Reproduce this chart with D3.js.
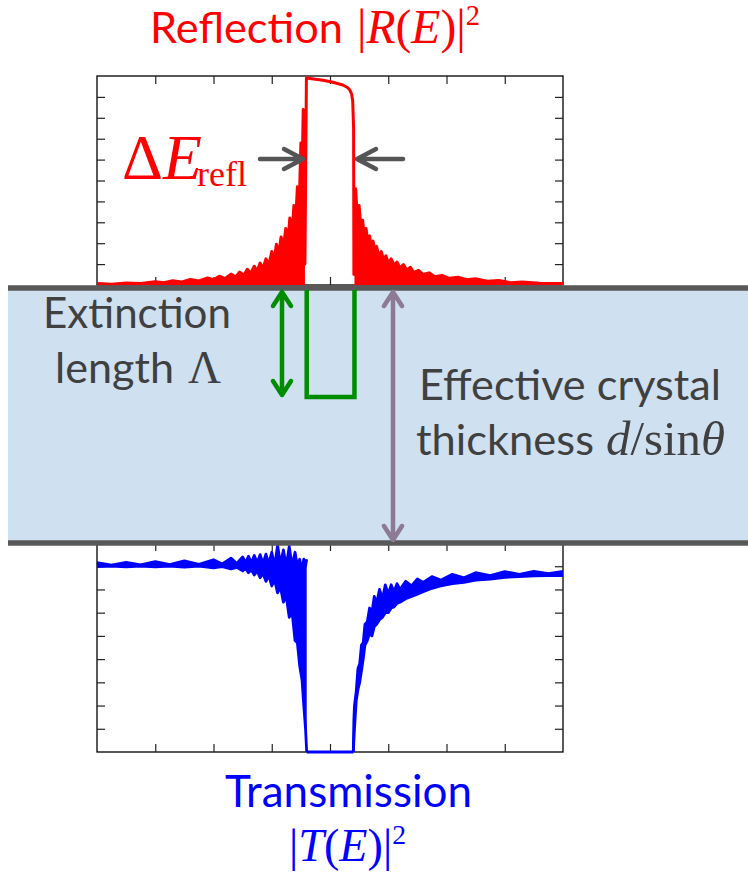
<!DOCTYPE html>
<html>
<head>
<meta charset="utf-8">
<script src="https://cdn.jsdelivr.net/npm/d3@7"></script>
<style>
	body { margin: 0; background: #fff; }
	svg { display: block; }
</style>
</head>
<body>
<script>
(function () {
	"use strict";

	// energy axis (arbitrary units) and tick positions
	var xTicks = [-3, -2, -1, 0, 1, 2, 3];
	var reflTicks = [0.1, 0.2, 0.3, 0.4, 0.5, 0.6, 0.7, 0.8, 0.9];
	var transTicks = [0.1, 0.2, 0.3, 0.4, 0.5, 0.6, 0.7, 0.8];

	// reflection |R(E)|^2 (fringe peaks and notches)
	var reflLeftE = [-4.0, -3.75, -3.5, -3.25, -3.0, -2.85, -2.7, -2.55, -2.4, -2.25, -2.1, -2.0, -1.9, -1.8,
		-1.7, -1.62, -1.55, -1.48, -1.42, -1.36, -1.3, -1.25, -1.2, -1.15, -1.1, -1.05, -1.0, -0.96,
		-0.92, -0.88, -0.84, -0.8, -0.76, -0.72, -0.69, -0.65, -0.62, -0.59, -0.56, -0.53, -0.5, -0.48,
		-0.46, -0.43];
	var reflLeftR = [0.007, 0.004, 0.010, 0.007, 0.016, 0.011, 0.020, 0.014, 0.027, 0.019, 0.034, 0.025, 0.042, 0.031,
		0.052, 0.038, 0.062, 0.046, 0.075, 0.055, 0.090, 0.066, 0.105, 0.078, 0.125, 0.095, 0.160, 0.120,
		0.195, 0.150, 0.230, 0.180, 0.270, 0.215, 0.320, 0.250, 0.380, 0.300, 0.470, 0.360, 0.680, 0.500,
		0.840, 0.100];
	var reflCoreE = [-0.405, -0.25, -0.12, 0.05, 0.22, 0.30, 0.34, 0.37, 0.39, 0.405, 0.41];
	var reflCoreR = [0.99, 0.985, 0.98, 0.97, 0.957, 0.945, 0.933, 0.915, 0.88, 0.75, 0.05];
	var reflRightE = [0.42, 0.44, 0.47, 0.50, 0.53, 0.56, 0.59, 0.62, 0.65, 0.68, 0.71, 0.74, 0.77, 0.80,
		0.84, 0.88, 0.92, 0.96, 1.0, 1.05, 1.1, 1.15, 1.2, 1.26, 1.32, 1.38, 1.44, 1.52, 1.6, 1.7,
		1.8, 1.92, 2.05, 2.2, 2.35, 2.5, 2.7, 2.9, 3.1, 3.3, 3.6, 4.0];
	var reflRightR = [0.20, 0.46, 0.32, 0.38, 0.27, 0.31, 0.23, 0.27, 0.20, 0.235, 0.175, 0.21, 0.155, 0.185,
		0.135, 0.16, 0.12, 0.14, 0.105, 0.125, 0.095, 0.11, 0.082, 0.098, 0.07, 0.085, 0.06, 0.07, 0.05, 0.058,
		0.04, 0.046, 0.032, 0.037, 0.025, 0.03, 0.018, 0.022, 0.011, 0.014, 0.008, 0.007];

	// transmission |T(E)|^2, upper and lower edge of the fringe band
	var transLeftE = [-4.0, -3.75, -3.5, -3.25, -3.0, -2.75, -2.5, -2.25, -2.0, -1.85, -1.7, -1.6, -1.5, -1.45,
		-1.4, -1.35, -1.3, -1.25, -1.2, -1.15, -1.1, -1.05, -1.0, -0.95, -0.9, -0.85, -0.8, -0.75,
		-0.7, -0.65, -0.6, -0.56, -0.52, -0.48, -0.45, -0.42, -0.40];
	var transLeftHi = [0.815, 0.805, 0.817, 0.806, 0.82, 0.807, 0.823, 0.808, 0.828, 0.81, 0.835, 0.812, 0.84, 0.815,
		0.843, 0.815, 0.846, 0.815, 0.85, 0.812, 0.852, 0.81, 0.86, 0.80, 0.89, 0.81, 0.87, 0.80,
		0.885, 0.80, 0.86, 0.80, 0.83, 0.78, 0.83, 0.80, 0.83];
	var transLeftLo = [0.798, 0.801, 0.797, 0.801, 0.797, 0.801, 0.796, 0.80, 0.793, 0.798, 0.788, 0.795, 0.78, 0.79,
		0.772, 0.785, 0.762, 0.78, 0.75, 0.77, 0.735, 0.76, 0.715, 0.74, 0.685, 0.71, 0.645, 0.67,
		0.58, 0.60, 0.48, 0.47, 0.37, 0.31, 0.20, 0.10, 0.0];
	var transCoreE = [-0.40, 0.40];
	var transCoreT = [0.0, 0.0];
	var transRightE = [0.40, 0.41, 0.42, 0.45, 0.48, 0.51, 0.54, 0.57, 0.60, 0.64, 0.68, 0.72, 0.76, 0.80,
		0.85, 0.90, 0.95, 1.0, 1.05, 1.1, 1.15, 1.2, 1.3, 1.4, 1.5, 1.6, 1.75, 1.9, 2.1, 2.3,
		2.5, 2.75, 3.0, 3.25, 3.5, 3.75, 4.0];
	var transRightHi = [0.0, 0.14, 0.20, 0.26, 0.36, 0.38, 0.46, 0.47, 0.55, 0.56, 0.62, 0.60, 0.67, 0.64,
		0.70, 0.66, 0.72, 0.68, 0.72, 0.69, 0.725, 0.70, 0.735, 0.715, 0.745, 0.73, 0.755, 0.74, 0.765, 0.75,
		0.772, 0.76, 0.777, 0.765, 0.778, 0.768, 0.778];
	var transRightLo = [0.0, 0.05, 0.10, 0.22, 0.27, 0.30, 0.35, 0.40, 0.46, 0.48, 0.51, 0.50, 0.54, 0.55,
		0.57, 0.58, 0.60, 0.60, 0.62, 0.625, 0.64, 0.645, 0.66, 0.67, 0.68, 0.69, 0.705, 0.715, 0.725, 0.73,
		0.74, 0.745, 0.752, 0.755, 0.758, 0.76, 0.76];

	var WIDTH = 748;
	var HEIGHT = 874;
	var SANS = 'Lato, "Open Sans", sans-serif';
	var SERIF = '"Liberation Serif", "DejaVu Serif", serif';
	var RED = '#ff0000';
	var BLUE = '#0000ff';
	var DARK = '#404040';
	var ARROW_GRAY = '#555555';
	var GREEN = '#008c00';
	var MAUVE = '#8d7a93';

	var x = d3.scaleLinear().domain([-4, 4]).range([97, 563]);
	var yR = d3.scaleLinear().domain([0, 1]).range([285, 76]);
	var yT = d3.scaleLinear().domain([0, 0.9]).range([752, 543]);

	var svg = d3.select('body').append('svg')
		.attr('width', WIDTH)
		.attr('height', HEIGHT);

	drawFrame(yR, reflTicks);
	drawFrame(yT, transTicks);

	// reflection curve
	var reflPts = d3.zip(reflLeftE.concat(reflCoreE, reflRightE), reflLeftR.concat(reflCoreR, reflRightR));
	var reflArea = d3.area()
		.x(function (d) { return x(d[0]); })
		.y0(yR(0))
		.y1(function (d) { return yR(d[1]); });
	[d3.zip(reflLeftE, reflLeftR), d3.zip(reflRightE, reflRightR)].forEach(function (wing) {
		svg.append('path').attr('d', reflArea(wing)).attr('fill', RED);
	});
	svg.append('path')
		.attr('d', d3.line().x(function (d) { return x(d[0]); }).y(function (d) { return yR(d[1]); })(reflPts))
		.attr('fill', 'none')
		.attr('stroke', RED)
		.attr('stroke-width', 3)
		.attr('stroke-linejoin', 'round');

	// transmission curve
	var transArea = d3.area()
		.x(function (d) { return x(d[0]); })
		.y0(function (d) { return yT(d[2]); })
		.y1(function (d) { return yT(d[1]); });
	var tLine = d3.line().x(function (d) { return x(d[0]); }).y(function (d) { return yT(d[1]); });
	[d3.zip(transLeftE, transLeftHi, transLeftLo), d3.zip(transRightE, transRightHi, transRightLo)].forEach(function (wing) {
		svg.append('path').attr('d', transArea(wing)).attr('fill', BLUE);
		[1, 2].forEach(function (k) {
			svg.append('path')
				.attr('d', tLine(wing.map(function (d) { return [d[0], d[k]]; })))
				.attr('fill', 'none')
				.attr('stroke', BLUE)
				.attr('stroke-width', 2.8)
				.attr('stroke-linejoin', 'round');
		});
	});
	svg.append('path')
		.attr('d', tLine(d3.zip(transCoreE, transCoreT)))
		.attr('fill', 'none')
		.attr('stroke', BLUE)
		.attr('stroke-width', 2.8);

	// crystal slab
	svg.append('rect')
		.attr('x', 8).attr('y', 288)
		.attr('width', WIDTH - 8).attr('height', 543 - 288)
		.attr('fill', '#cfe0f1');
	[288, 543].forEach(function (yy) {
		svg.append('line')
			.attr('x1', 8).attr('x2', WIDTH)
			.attr('y1', yy).attr('y2', yy)
			.attr('stroke', '#595959')
			.attr('stroke-width', 5.5);
	});

	// extinction length marker
	svg.append('path')
		.attr('d', 'M' + x(-0.40) + ',290V397H' + x(0.42) + 'V290')
		.attr('fill', 'none')
		.attr('stroke', GREEN)
		.attr('stroke-width', 4.5);
	doubleArrow(282, 292, 395, GREEN);
	doubleArrow(393, 292, 540, MAUVE);

	// width arrows
	arrow(260, 303, 159, ARROW_GRAY);
	arrow(403, 357, 159, ARROW_GRAY);

	// texts
	fit(sansText('Reflection', 150, 43, RED), 193);
	fit(mathText([['|'], ['R', 1], ['('], ['E', 1], [')'], ['|'], ['2', 0, 'sup']], 357, 43, RED), 123);
	fit(mathText([['Δ'], ['E', 1]], 122, 179, RED), 80);
	fit(mathText([['refl']], 197, 186, RED), 50);

	fit(sansText('Extinction', 43, 328, DARK), 188);
	fit(sansText('length', 55, 383, DARK), 119);
	fit(mathText([['Λ']], 188, 383, DARK), 33);
	fit(sansText('Effective crystal', 419, 400, DARK), 302);
	fit(sansText('thickness', 416, 455, DARK), 178);
	fit(mathText([['d', 1], ['/'], ['sin'], ['θ', 1]], 606, 455, DARK), 119);

	fit(sansText('Transmission', 225, 807, BLUE), 247);
	fit(mathText([['|'], ['T', 1], ['('], ['E', 1], [')'], ['|'], ['2', 0, 'sup']], 289, 861, BLUE), 117);

	function drawFrame(y, ticks) {
		var top = y.range()[1];
		var bottom = y.range()[0];
		var g = svg.append('g').attr('class', 'frame');
		g.append('rect')
			.attr('x', x.range()[0]).attr('y', top)
			.attr('width', x.range()[1] - x.range()[0])
			.attr('height', bottom - top)
			.attr('fill', 'none')
			.attr('stroke', '#000')
			.attr('stroke-width', 1.3);
		var axes = [
			[d3.axisTop(x).tickValues(xTicks), 'translate(0,' + top + ')'],
			[d3.axisBottom(x).tickValues(xTicks), 'translate(0,' + bottom + ')'],
			[d3.axisLeft(y).tickValues(ticks), 'translate(' + x.range()[0] + ',0)'],
			[d3.axisRight(y).tickValues(ticks), 'translate(' + x.range()[1] + ',0)']
		];
		axes.forEach(function (a) {
			var ax = g.append('g')
				.attr('transform', a[1])
				.call(a[0].tickSize(-8).tickSizeOuter(0).tickFormat(''));
			ax.select('.domain').remove();
			ax.selectAll('line').attr('stroke', '#222').attr('stroke-width', 1.2);
		});
	}

	function sansText(str, tx, ty, color) {
		return svg.append('text')
			.attr('x', tx).attr('y', ty)
			.attr('font-family', SANS)
			.attr('font-size', 44)
			.attr('fill', color)
			.text(str);
	}

	function mathText(parts, tx, ty, color) {
		var t = svg.append('text')
			.attr('x', tx).attr('y', ty)
			.attr('font-family', SERIF)
			.attr('font-size', 46)
			.attr('fill', color);
		parts.forEach(function (p) {
			var span = t.append('tspan').text(p[0]);
			if (p[1]) span.attr('font-style', 'italic');
			if (p[2] === 'sup') {
				span.attr('font-size', '0.6em').attr('dy', '-0.62em');
			}
		});
		return t;
	}

	function fit(t, target) {
		var w = t.node().getComputedTextLength();
		var fs = parseFloat(t.attr('font-size'));
		t.attr('font-size', fs * target / w);
		return t;
	}

	function arrow(x1, x2, yy, color) {
		var dir = x2 > x1 ? -1 : 1;
		svg.append('path')
			.attr('d', 'M' + x1 + ',' + yy + 'H' + x2 +
				'M' + (x2 + dir * 19) + ',' + (yy - 10) + 'L' + x2 + ',' + yy + 'L' + (x2 + dir * 19) + ',' + (yy + 10))
			.attr('fill', 'none')
			.attr('stroke', color)
			.attr('stroke-width', 4.5)
			.attr('stroke-linecap', 'round')
			.attr('stroke-linejoin', 'round');
	}

	function doubleArrow(xx, y1, y2, color) {
		svg.append('path')
			.attr('d', 'M' + xx + ',' + y1 + 'V' + y2 +
				'M' + (xx - 9) + ',' + (y1 + 14) + 'L' + xx + ',' + y1 + 'L' + (xx + 9) + ',' + (y1 + 14) +
				'M' + (xx - 9) + ',' + (y2 - 14) + 'L' + xx + ',' + y2 + 'L' + (xx + 9) + ',' + (y2 - 14))
			.attr('fill', 'none')
			.attr('stroke', color)
			.attr('stroke-width', 4.5)
			.attr('stroke-linecap', 'round')
			.attr('stroke-linejoin', 'round');
	}
}());
</script>
</body>
</html>
